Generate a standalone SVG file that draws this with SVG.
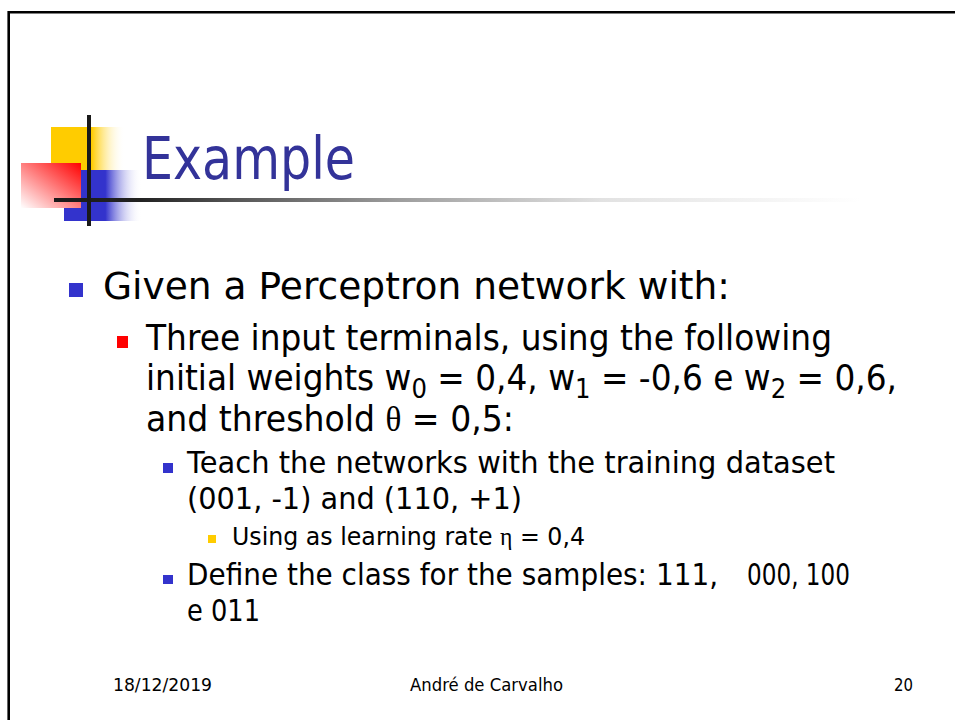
<svg xmlns="http://www.w3.org/2000/svg" width="955" height="720" viewBox="0 0 955 720">
  <style>
    .t { font-family: "DejaVu Sans", "Liberation Sans", sans-serif; fill: #000; }
    .g { font-family: "Liberation Serif", "DejaVu Serif", serif; }
    .title { font-family: "DejaVu Sans", "Liberation Sans", sans-serif; fill: #333399; }
    .l1 { font-size: 37px; }
    .l2 { font-size: 35px; }
    .sub { font-size: 26px; }
    .l3 { font-size: 30px; }
    .l4 { font-size: 25px; }
    .foot { font-size: 18px; }
  </style>
  <defs>
    <linearGradient id="yellowFade" x1="0" y1="0" x2="1" y2="0">
      <stop offset="0" stop-color="#ffcc00"/>
      <stop offset="0.55" stop-color="#ffcc00"/>
      <stop offset="1" stop-color="#ffffff" stop-opacity="0"/>
    </linearGradient>
    <linearGradient id="blueFade" x1="0" y1="0" x2="1" y2="0">
      <stop offset="0" stop-color="#3333cc"/>
      <stop offset="0.53" stop-color="#3333cc"/>
      <stop offset="1" stop-color="#ffffff" stop-opacity="0"/>
    </linearGradient>
    <linearGradient id="redFade" x1="1" y1="0" x2="0" y2="1">
      <stop offset="0" stop-color="#ff0000"/>
      <stop offset="1" stop-color="#ffffff"/>
    </linearGradient>
    <linearGradient id="ruleFade" gradientUnits="userSpaceOnUse" x1="54" y1="0" x2="860" y2="0">
      <stop offset="0" stop-color="#1a1a1a"/>
      <stop offset="0.107" stop-color="#222222"/>
      <stop offset="0.222" stop-color="#555555"/>
      <stop offset="0.43" stop-color="#9e9e9e"/>
      <stop offset="0.68" stop-color="#e2e2e2"/>
      <stop offset="1" stop-color="#ffffff"/>
    </linearGradient>
  </defs>

  <rect x="0" y="0" width="955" height="720" fill="#ffffff"/>

  <!-- slide frame -->
  <g id="frame" fill="none" stroke="#000" stroke-width="2.6">
    <path d="M8.7 720 V12.3 H955"/>
  </g>

  <!-- title emblem -->
  <g id="emblem">
    <rect x="51" y="127" width="74" height="43" fill="url(#yellowFade)"/>
    <rect x="64" y="170" width="78" height="51" fill="url(#blueFade)"/>
    <rect x="21" y="163" width="60" height="45" fill="url(#redFade)"/>
    <rect x="54" y="198" width="806" height="4" fill="url(#ruleFade)"/>
    <rect x="87" y="115" width="4" height="111" fill="#1a1a1a"/>
  </g>

  <g id="title">
    <text class="title" x="142" y="179" font-size="59" textLength="213" lengthAdjust="spacingAndGlyphs">Example</text>
  </g>

  <!-- bullet list -->
  <g id="item-given">
    <rect x="69" y="283" width="14" height="14" fill="#3333cc"/>
    <text class="t l1" x="103" y="299" textLength="627" lengthAdjust="spacingAndGlyphs">Given a Perceptron network with:</text>
  </g>

  <g id="item-inputs">
    <rect x="117" y="336" width="11" height="12" fill="#ff0000"/>
    <text class="t l2" x="146" y="350" textLength="686" lengthAdjust="spacingAndGlyphs">Three input terminals, using the following</text>
    <text class="t l2" x="146" y="390" textLength="751" lengthAdjust="spacingAndGlyphs">initial weights w<tspan class="sub" dy="8">0</tspan><tspan dy="-8"> = 0,4, w</tspan><tspan class="sub" dy="8">1</tspan><tspan dy="-8"> = -0,6 e w</tspan><tspan class="sub" dy="8">2</tspan><tspan dy="-8"> = 0,6,</tspan></text>
    <text class="t l2" x="146" y="431" textLength="368" lengthAdjust="spacingAndGlyphs">and threshold <tspan class="g">θ</tspan> = 0,5:</text>
  </g>

  <g id="item-teach">
    <rect x="163" y="463" width="10" height="10" fill="#3333cc"/>
    <text class="t l3" x="187" y="473" textLength="648" lengthAdjust="spacingAndGlyphs">Teach the networks with the training dataset</text>
    <text class="t l3" x="187" y="509" textLength="335" lengthAdjust="spacingAndGlyphs">(001, -1) and (110, +1)</text>
  </g>

  <g id="item-rate">
    <rect x="208" y="535" width="8" height="8" fill="#ffcc00"/>
    <text class="t l4" x="232" y="545" textLength="353" lengthAdjust="spacingAndGlyphs">Using as learning rate <tspan class="g">η</tspan> = 0,4</text>
  </g>

  <g id="item-define">
    <rect x="163" y="575" width="10" height="9" fill="#3333cc"/>
    <text class="t l3" x="187" y="585" textLength="531" lengthAdjust="spacingAndGlyphs">Define the class for the samples: 111,</text>
    <text class="t l3" x="747" y="585" textLength="103" lengthAdjust="spacingAndGlyphs">000, 100</text>
    <text class="t l3" x="187" y="621" textLength="73" lengthAdjust="spacingAndGlyphs">e 011</text>
  </g>

  <!-- footer -->
  <g id="footer">
    <text class="t foot" x="113" y="691" textLength="99" lengthAdjust="spacingAndGlyphs">18/12/2019</text>
    <text class="t foot" x="410" y="691" textLength="153" lengthAdjust="spacingAndGlyphs">André de Carvalho</text>
    <text class="t foot" x="894" y="691" textLength="19" lengthAdjust="spacingAndGlyphs">20</text>
  </g>
</svg>
